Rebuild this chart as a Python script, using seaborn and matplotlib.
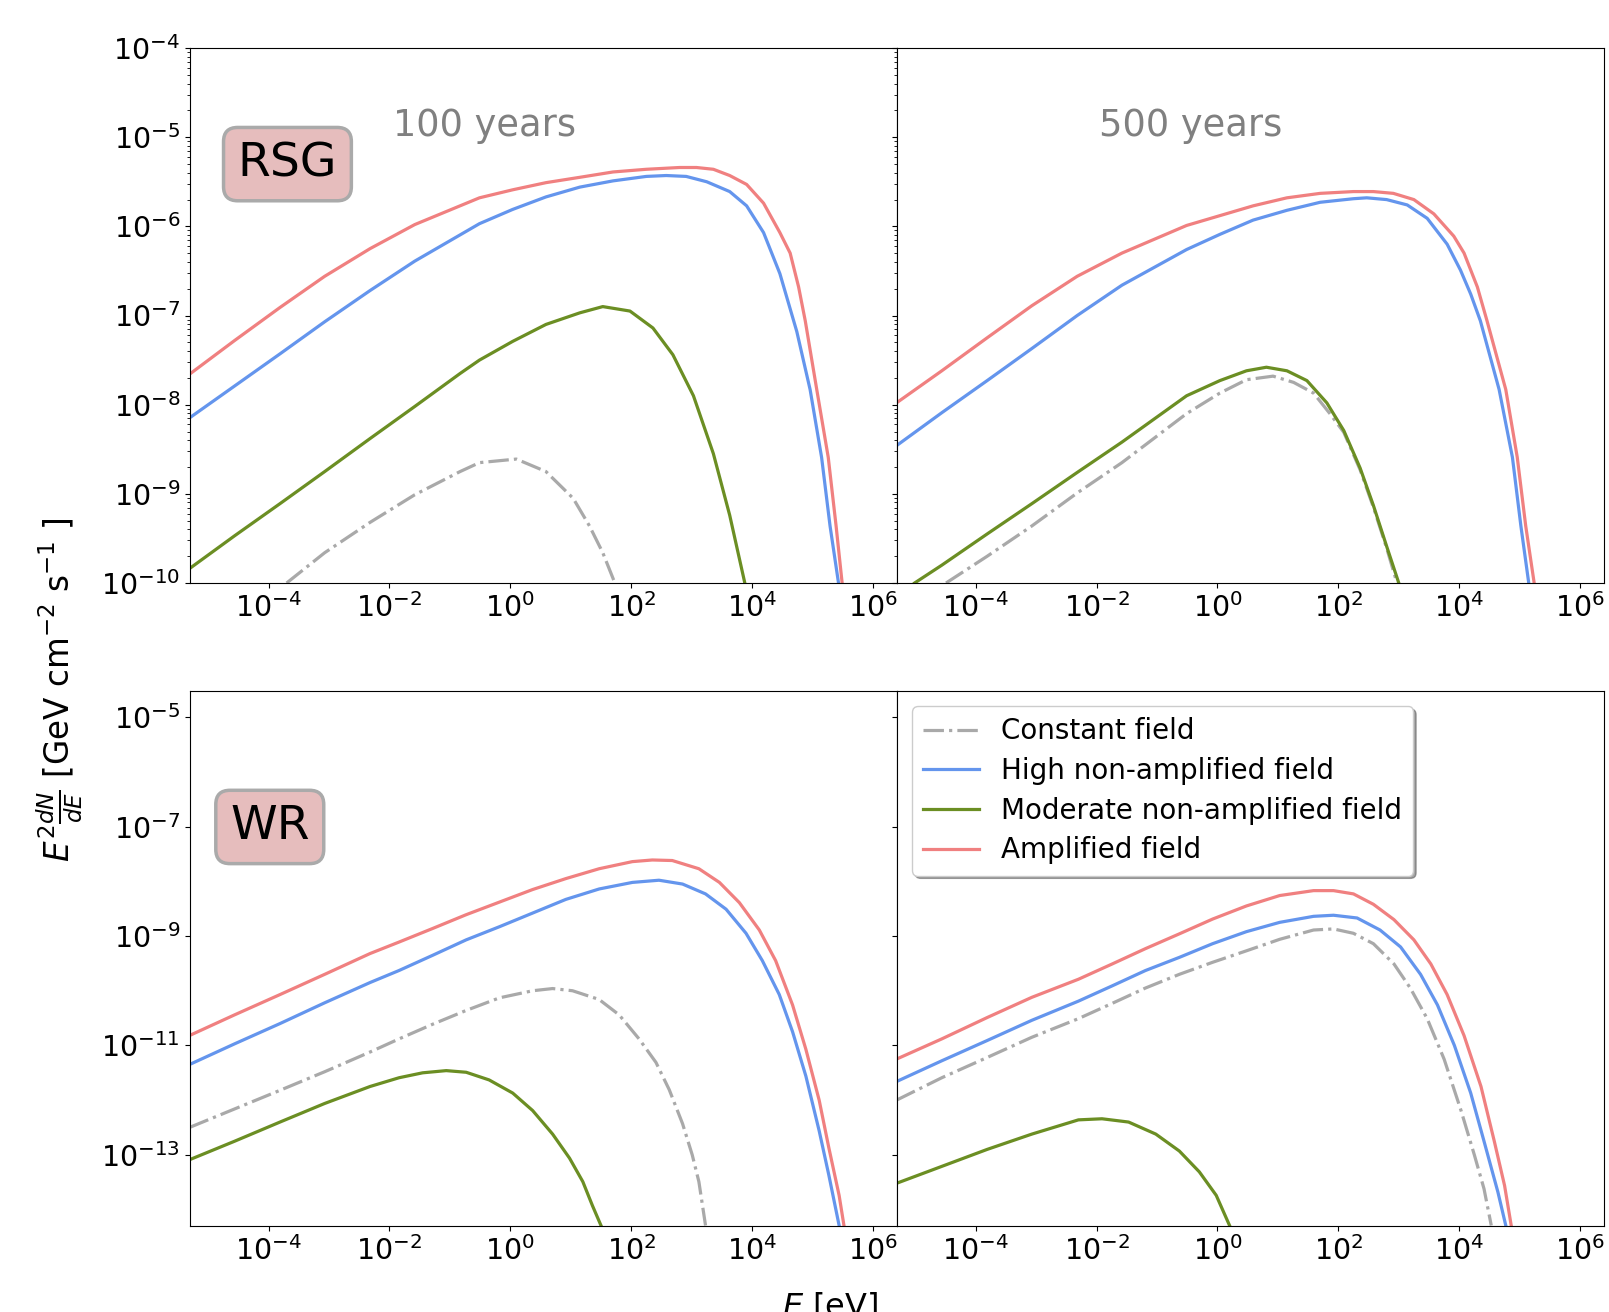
import numpy as np
import pandas as pd
import seaborn as sns
import matplotlib.pyplot as plt

# curves, as log10(E / eV) and log10(E^2 dN/dE)
# RSG, 100 years
rsg100_amp_x = [-5.31, -4.56, -3.81, -3.07, -2.32, -1.58, -0.51, 0.04, 0.59, 1.15, 1.70, 2.25, 2.80, 3.08, 3.36,
                3.63, 3.91, 4.19, 4.46, 4.63, 4.77, 4.88, 5.07, 5.26, 5.39, 5.49]
rsg100_amp_y = [-7.66, -7.28, -6.91, -6.56, -6.25, -5.98, -5.68, -5.59, -5.51, -5.45, -5.39, -5.36, -5.34, -5.34, -5.36,
                -5.43, -5.53, -5.74, -6.07, -6.30, -6.68, -7.06, -7.83, -8.59, -9.36, -10.0]
rsg100_high_x = [-5.31, -4.56, -3.81, -3.07, -2.32, -1.58, -0.51, 0.04, 0.59, 1.15, 1.70, 2.25, 2.58, 2.91, 3.25,
                 3.63, 3.91, 4.19, 4.46, 4.74, 4.96, 5.15, 5.29, 5.43]
rsg100_high_y = [-8.15, -7.79, -7.43, -7.07, -6.72, -6.39, -5.97, -5.81, -5.67, -5.56, -5.49, -5.44, -5.43, -5.44, -5.50,
                 -5.61, -5.77, -6.07, -6.53, -7.18, -7.83, -8.59, -9.36, -10.0]
rsg100_mod_x = [-5.31, -4.56, -3.81, -3.07, -2.32, -1.58, -0.83, -0.51, 0.04, 0.59, 1.15, 1.53, 1.98, 2.36, 2.69,
                3.03, 3.36, 3.63, 3.88]
rsg100_mod_y = [-9.84, -9.47, -9.11, -8.75, -8.38, -8.02, -7.65, -7.50, -7.29, -7.10, -6.97, -6.90, -6.95, -7.14, -7.44,
                -7.90, -8.55, -9.24, -10.0]
rsg100_const_x = [-3.70, -3.07, -2.32, -1.58, -0.83, -0.51, 0.10, 0.59, 1.04, 1.31, 1.53, 1.73]
rsg100_const_y = [-10.0, -9.66, -9.32, -9.01, -8.75, -8.65, -8.61, -8.75, -9.05, -9.36, -9.66, -10.0]

# RSG, 500 years
rsg500_amp_x = [-5.31, -4.56, -3.81, -3.07, -2.32, -1.58, -0.51, 0.04, 0.59, 1.15, 1.70, 2.25, 2.58, 2.91, 3.25,
                3.58, 3.91, 4.08, 4.30, 4.46, 4.77, 4.96, 5.10, 5.24]
rsg500_amp_y = [-7.98, -7.62, -7.25, -6.89, -6.56, -6.30, -5.99, -5.88, -5.77, -5.68, -5.63, -5.61, -5.61, -5.63, -5.70,
                -5.86, -6.11, -6.30, -6.68, -7.06, -7.83, -8.59, -9.36, -10.0]
rsg500_high_x = [-5.31, -4.56, -3.81, -3.07, -2.32, -1.58, -0.51, 0.04, 0.59, 1.15, 1.70, 2.25, 2.47, 2.80, 3.14,
                 3.47, 3.80, 4.02, 4.19, 4.35, 4.66, 4.88, 5.02, 5.15]
rsg500_high_y = [-8.46, -8.09, -7.73, -7.37, -7.00, -6.66, -6.26, -6.09, -5.93, -5.82, -5.73, -5.69, -5.68, -5.70, -5.76,
                 -5.91, -6.20, -6.49, -6.76, -7.06, -7.83, -8.59, -9.36, -10.0]
rsg500_mod_x = [-5.01, -4.56, -3.81, -3.07, -2.32, -1.58, -0.51, 0.04, 0.48, 0.81, 1.15, 1.48, 1.81, 2.09, 2.36,
                2.58, 2.80, 3.00]
rsg500_mod_y = [-10.0, -9.80, -9.45, -9.11, -8.76, -8.42, -7.90, -7.73, -7.62, -7.58, -7.62, -7.73, -7.98, -8.29, -8.71,
                -9.13, -9.59, -10.0]
rsg500_const_x = [-4.49, -3.81, -3.07, -2.32, -1.58, -0.51, 0.04, 0.48, 0.92, 1.26, 1.59, 1.86, 2.09, 2.36, 2.58,
                  2.80, 2.97]
rsg500_const_y = [-10.0, -9.70, -9.36, -8.99, -8.65, -8.10, -7.87, -7.72, -7.68, -7.75, -7.87, -8.10, -8.31, -8.73, -9.15,
                  -9.61, -10.0]

# WR, 100 years
wr100_amp_x = [-5.31, -4.56, -3.81, -3.07, -2.32, -1.84, -1.28, -0.73, -0.18, 0.37, 0.92, 1.47, 2.02, 2.35, 2.68,
               3.12, 3.46, 3.79, 4.12, 4.39, 4.67, 4.89, 5.11, 5.27, 5.44, 5.52]
wr100_amp_y = [-10.82, -10.44, -10.07, -9.70, -9.32, -9.11, -8.86, -8.61, -8.38, -8.15, -7.95, -7.77, -7.64, -7.61, -7.62,
               -7.77, -8.02, -8.39, -8.89, -9.45, -10.26, -11.07, -12.00, -12.87, -13.74, -14.29]
wr100_high_x = [-5.31, -4.56, -3.81, -3.07, -2.32, -1.84, -1.28, -0.73, -0.18, 0.37, 0.92, 1.47, 2.02, 2.46, 2.85,
                3.23, 3.57, 3.90, 4.17, 4.45, 4.67, 4.89, 5.11, 5.27, 5.44]
wr100_high_y = [-11.35, -10.97, -10.60, -10.22, -9.85, -9.63, -9.35, -9.07, -8.83, -8.58, -8.33, -8.14, -8.02, -7.98, -8.05,
                -8.23, -8.51, -8.95, -9.45, -10.07, -10.75, -11.56, -12.56, -13.37, -14.29]
wr100_mod_x = [-5.31, -4.56, -3.81, -3.07, -2.32, -1.84, -1.45, -1.06, -0.73, -0.35, 0.04, 0.37, 0.70, 0.98, 1.20,
               1.36, 1.50]
wr100_mod_y = [-13.09, -12.75, -12.40, -12.06, -11.75, -11.59, -11.50, -11.46, -11.49, -11.63, -11.87, -12.19, -12.62,
               -13.06, -13.49, -13.93, -14.29]
wr100_const_x = [-5.31, -4.56, -3.81, -3.07, -2.32, -1.84, -1.28, -0.73, -0.18, 0.37, 0.70, 1.03, 1.47, 1.80, 2.13,
                 2.41, 2.63, 2.85, 3.01, 3.12, 3.23]
wr100_const_y = [-12.50, -12.16, -11.82, -11.48, -11.12, -10.88, -10.61, -10.36, -10.13, -10.00, -9.96, -10.00, -10.16,
                 -10.44, -10.88, -11.31, -11.81, -12.43, -13.00, -13.49, -14.29]

# WR, 500 years
wr500_amp_x = [-5.31, -4.56, -3.81, -3.07, -2.30, -1.74, -1.19, -0.63, -0.08, 0.48, 1.03, 1.59, 1.92, 2.25, 2.58,
               2.92, 3.25, 3.53, 3.80, 4.08, 4.36, 4.58, 4.75, 4.86]
wr500_amp_y = [-11.25, -10.88, -10.49, -10.12, -9.79, -9.51, -9.23, -8.96, -8.69, -8.45, -8.26, -8.17, -8.17, -8.23, -8.42,
               -8.70, -9.07, -9.51, -10.07, -10.82, -11.75, -12.75, -13.56, -14.29]
wr500_high_x = [-5.31, -4.56, -3.81, -3.07, -2.30, -1.74, -1.19, -0.63, -0.08, 0.48, 1.03, 1.59, 1.92, 2.31, 2.69,
                3.03, 3.36, 3.64, 3.92, 4.19, 4.41, 4.64, 4.77]
wr500_high_y = [-11.66, -11.28, -10.91, -10.54, -10.19, -9.91, -9.63, -9.39, -9.14, -8.92, -8.75, -8.64, -8.62, -8.67,
                -8.89, -9.20, -9.70, -10.26, -11.00, -11.87, -12.75, -13.68, -14.29]
wr500_mod_x = [-5.31, -4.56, -3.81, -3.07, -2.30, -1.91, -1.47, -1.02, -0.63, -0.30, -0.02, 0.20]
wr500_mod_y = [-13.52, -13.21, -12.90, -12.62, -12.36, -12.34, -12.40, -12.62, -12.93, -13.31, -13.74, -14.29]
wr500_const_x = [-5.31, -4.56, -3.81, -3.07, -2.30, -1.74, -1.19, -0.63, -0.08, 0.48, 1.03, 1.59, 1.92, 2.25, 2.58,
                 2.92, 3.19, 3.47, 3.75, 4.03, 4.25, 4.41, 4.53]
wr500_const_y = [-12.00, -11.59, -11.22, -10.85, -10.51, -10.23, -9.95, -9.70, -9.48, -9.27, -9.06, -8.89, -8.87, -8.95,
                 -9.14, -9.51, -9.95, -10.51, -11.25, -12.19, -13.00, -13.62, -14.29]

labels = ["Constant field", "High non-amplified field",
          "Moderate non-amplified field", "Amplified field"]
colors = ["darkgray", "cornflowerblue", "olivedrab", "lightcoral"]
styles = ["-.", "-", "-", "-"]

panels = {
    (0, 0): [(rsg100_const_x, rsg100_const_y), (rsg100_high_x, rsg100_high_y),
             (rsg100_mod_x, rsg100_mod_y), (rsg100_amp_x, rsg100_amp_y)],
    (0, 1): [(rsg500_const_x, rsg500_const_y), (rsg500_high_x, rsg500_high_y),
             (rsg500_mod_x, rsg500_mod_y), (rsg500_amp_x, rsg500_amp_y)],
    (1, 0): [(wr100_const_x, wr100_const_y), (wr100_high_x, wr100_high_y),
             (wr100_mod_x, wr100_mod_y), (wr100_amp_x, wr100_amp_y)],
    (1, 1): [(wr500_const_x, wr500_const_y), (wr500_high_x, wr500_high_y),
             (wr500_mod_x, wr500_mod_y), (wr500_amp_x, wr500_amp_y)],
}

fig, axes = plt.subplots(2, 2, figsize=(16.09, 13.12), dpi=100, sharey='row')
fig.subplots_adjust(left=0.118, right=0.997, top=0.9634, bottom=0.0655,
                    hspace=0.202, wspace=0.0)

for (r, c), curves in panels.items():
    ax = axes[r, c]
    for (lx, ly), lab, col, ls in zip(curves, labels, colors, styles):
        df = pd.DataFrame({"E": 10.0 ** np.array(lx), "F": 10.0 ** np.array(ly)})
        sns.lineplot(data=df, x="E", y="F", ax=ax, color=col, linestyle=ls,
                     linewidth=2.3, label=lab, sort=False, estimator=None)
    ax.set_xscale("log")
    ax.set_yscale("log")
    ax.set_xlim(5e-6, 2.5e6)
    ax.set_xticks([1e-4, 1e-2, 1e0, 1e2, 1e4, 1e6])
    ax.set_xlabel("")
    ax.set_ylabel("")
    ax.tick_params(labelsize=20.5)
    if ax.get_legend() is not None:
        ax.get_legend().remove()

axes[0, 0].set_ylim(1e-10, 1e-4)
axes[0, 0].set_yticks([1e-10, 1e-9, 1e-8, 1e-7, 1e-6, 1e-5, 1e-4])
axes[1, 0].set_ylim(5e-15, 3e-5)
axes[1, 0].set_yticks([1e-13, 1e-11, 1e-9, 1e-7, 1e-5])
axes[1, 0].yaxis.set_minor_locator(plt.NullLocator())

box = dict(boxstyle="round,pad=0.3", facecolor="#e6bdbd", edgecolor="#aaaaaa", linewidth=2.5)
axes[0, 0].text(0.138, 0.783, "RSG", transform=axes[0, 0].transAxes, fontsize=34,
                ha="center", va="center", bbox=box)
axes[1, 0].text(0.113, 0.746, "WR", transform=axes[1, 0].transAxes, fontsize=34,
                ha="center", va="center", bbox=box)
axes[0, 0].text(0.416, 0.856, "100 years", transform=axes[0, 0].transAxes,
                fontsize=26.5, color="gray", ha="center", va="center")
axes[0, 1].text(0.415, 0.856, "500 years", transform=axes[0, 1].transAxes,
                fontsize=26.5, color="gray", ha="center", va="center")

h, l = axes[1, 1].get_legend_handles_labels()
axes[1, 1].legend(h, l, loc="upper left", fontsize=20, shadow=True, fancybox=True,
                  handlelength=2.0, borderaxespad=0.55, labelspacing=0.42)

fig.text(0.037, 0.474, r"$E^2\frac{dN}{dE}$ [GeV cm$^{-2}$ s$^{-1}$ ]",
         rotation=90, fontsize=23.5, ha="center", va="center")
fig.text(0.516, 1 - 1290 / 1312, r"$E$ [eV]", fontsize=23, ha="center", va="top")

fig.savefig("out.png", dpi=100)
